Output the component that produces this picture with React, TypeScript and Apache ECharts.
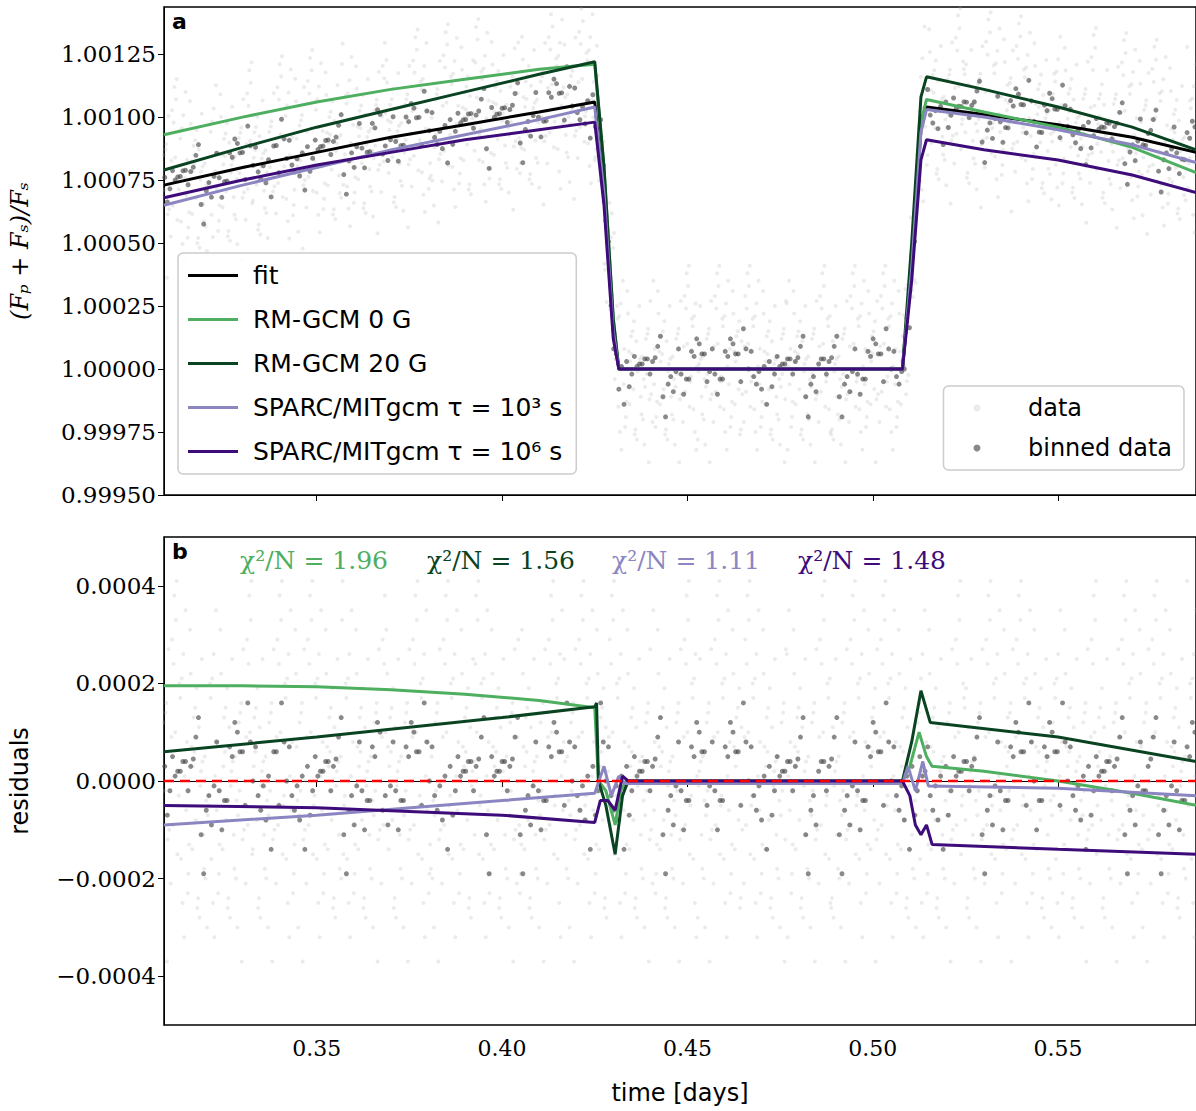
import * as echarts from 'echarts';
import React, { useEffect, useRef } from 'react';

// model curves, top panel: [time, flux]
const fitPts = [[0.3088, 1.00073], [0.33, 1.0008], [0.35, 1.00086], [0.37, 1.00092], [0.39, 1.00097], [0.41, 1.00102], [0.425, 1.00106], [0.4275, 1.0007], [0.43, 1.00015], [0.4315, 1.0], [0.508, 1.0], [0.5105, 1.0004], [0.513, 1.00095], [0.5145, 1.00104], [0.53, 1.00101], [0.55, 1.00097], [0.57, 1.00092], [0.5872, 1.00086]];
const gcm0Pts = [[0.3088, 1.00093], [0.33, 1.001], [0.35, 1.00106], [0.37, 1.00111], [0.39, 1.00115], [0.41, 1.00119], [0.425, 1.00121], [0.4275, 1.0008], [0.43, 1.0002], [0.4315, 1.0], [0.508, 1.0], [0.5105, 1.0004], [0.513, 1.00098], [0.5145, 1.00107], [0.53, 1.00102], [0.55, 1.00096], [0.57, 1.00088], [0.5872, 1.00078]];
const gcm20Pts = [[0.3088, 1.00079], [0.33, 1.00088], [0.35, 1.00096], [0.37, 1.00103], [0.39, 1.0011], [0.41, 1.00117], [0.425, 1.00122], [0.4275, 1.0008], [0.43, 1.0002], [0.4315, 1.0], [0.508, 1.0], [0.5105, 1.0005], [0.513, 1.00108], [0.5145, 1.00116], [0.53, 1.00111], [0.55, 1.00104], [0.57, 1.00096], [0.5872, 1.00087]];
const sp3Pts = [[0.3088, 1.00065], [0.33, 1.00073], [0.35, 1.0008], [0.37, 1.00087], [0.39, 1.00093], [0.41, 1.00099], [0.425, 1.00104], [0.4275, 1.0007], [0.43, 1.00015], [0.4315, 1.0], [0.508, 1.0], [0.5105, 1.0004], [0.513, 1.00094], [0.5145, 1.00103], [0.53, 1.001], [0.55, 1.00095], [0.57, 1.00089], [0.5872, 1.00082]];
const sp6Pts = [[0.3088, 1.00068], [0.33, 1.00075], [0.35, 1.00081], [0.37, 1.00086], [0.39, 1.00091], [0.41, 1.00095], [0.425, 1.00098], [0.4275, 1.00065], [0.43, 1.00012], [0.4315, 1.0], [0.508, 1.0], [0.5105, 1.00035], [0.513, 1.00083], [0.5145, 1.00091], [0.53, 1.00087], [0.55, 1.00083], [0.57, 1.00077], [0.5872, 1.0007]];

// residual curves, bottom panel: [time, residual in 1e-4]
const gcm0Res = [[0.3088, 1.95], [0.33, 1.95], [0.35, 1.93], [0.37, 1.87], [0.39, 1.78], [0.41, 1.65], [0.425, 1.5], [0.426, 0.0], [0.428, -0.2], [0.4305, -0.9], [0.432, -0.2], [0.4335, 0.0], [0.508, 0.0], [0.51, 0.3], [0.5125, 1.0], [0.5145, 0.5], [0.516, 0.3], [0.53, 0.2], [0.55, 0.0], [0.57, -0.25], [0.5872, -0.5]];
const gcm20Res = [[0.3088, 0.6], [0.35, 0.9], [0.4, 1.3], [0.425, 1.52], [0.4255, 1.6], [0.426, 0.0], [0.428, -0.5], [0.4305, -1.5], [0.4325, -0.3], [0.434, 0.0], [0.508, 0.0], [0.5105, 0.8], [0.513, 1.85], [0.5155, 1.2], [0.55, 0.9], [0.5872, 0.4]];
const sp3Res = [[0.3088, -0.9], [0.35, -0.7], [0.4, -0.4], [0.425, -0.25], [0.4275, 0.3], [0.4295, -0.3], [0.4315, 0.1], [0.433, -0.05], [0.508, -0.05], [0.5095, 0.3], [0.5115, -0.2], [0.5135, 0.4], [0.515, -0.1], [0.55, -0.15], [0.5872, -0.3]];
const sp6Res = [[0.3088, -0.5], [0.35, -0.55], [0.4, -0.7], [0.425, -0.85], [0.4265, -0.4], [0.4285, -0.4], [0.4305, -0.6], [0.4325, 0.1], [0.434, 0.0], [0.508, 0.0], [0.51, -0.3], [0.5115, -0.9], [0.513, -1.1], [0.5145, -0.9], [0.516, -1.3], [0.55, -1.4], [0.5872, -1.5]];

// scatter residuals (1e-4)
const rawRes = [1.2, -0.8, 2.6, -2.1, 0.4, 3.1, -1.5, -0.2, 1.9, -3.2, 0.9, -1.1, 2.2, -0.5, 1.4, -2.6, 0.1, 2.9, -1.8, 0.7, -0.3, 1.6, -2.4, 3.5, -0.9, 0.5, -1.4, 2.0, -3.7, 1.1, -0.6, 2.4, -2.0, 0.3, 1.7, -1.2, -2.8, 0.8, 3.8, -0.4, 1.3, -1.6, 2.7, -0.1, -2.3, 1.0, -3.0, 0.6, 2.1, -1.0, 0.2, -1.9, 3.3, -0.7, 1.5, -2.5, 0.0, 2.5, -1.3, 4.1];
const binnedRes = [0.3, -0.5, 0.8, -0.2, 0.1, 0.6, -0.9, 0.4, -0.1, 1.2, -0.6, 0.2, -0.3, 0.7, -1.1, 0.5, 0.0, -0.4, 0.9, -0.7, 1.6, -0.2, 0.3, -1.4, 0.6, -0.1, 0.4, -0.8, 1.0, -0.3, 0.2, -0.6, 0.5, -1.9, 0.1, 0.7, -0.4, 1.3, -0.2, 0.8, -1.0, 0.45];

const chiLabels = ['χ²/N = 1.96', 'χ²/N = 1.56', 'χ²/N = 1.11', 'χ²/N = 1.48'];
const xTicks = [0.35, 0.4, 0.45, 0.5, 0.55];
const topTicks = [0.9995, 0.99975, 1.0, 1.00025, 1.0005, 1.00075, 1.001, 1.00125];
const botTicks = [-0.0004, -0.0002, 0, 0.0002, 0.0004];

const C = { fit: '#000000', g0: '#4daf5f', g20: '#0a4322', s3: '#8b86c2', s6: '#3d0c7a' };
const names = ['fit', 'RM-GCM 0 G', 'RM-GCM 20 G', 'SPARC/MITgcm τ = 10³ s', 'SPARC/MITgcm τ = 10⁶ s'];
const serif = 'DejaVu Serif';
const sans = 'DejaVu Sans';

const interp = (pts: number[][], t: number) => {
  for (let i = 1; i < pts.length; i++) {
    if (t <= pts[i][0]) {
      const [x0, y0] = pts[i - 1];
      const [x1, y1] = pts[i];
      return y0 + ((y1 - y0) * (t - x0)) / (x1 - x0);
    }
  }
  return pts[pts.length - 1][1];
};

const App: React.FC = () => {
  const ref = useRef<HTMLDivElement>(null);

  useEffect(() => {
    if (!ref.current) return;
    const chart = echarts.init(ref.current, null, { renderer: 'svg' });

    const raw: number[][] = [];
    for (let i = 0, t = 0.3088; t < 0.5872; i++, t += 0.0002) {
      raw.push([t, rawRes[(i * 7 + Math.floor(i / 60) * 13) % rawRes.length] * 1e-4]);
    }
    const binned: number[][] = [];
    for (let i = 0, t = 0.309; t < 0.5872; i++, t += 0.0007) {
      binned.push([t, binnedRes[(i * 19 + Math.floor(i / 42) * 5) % binnedRes.length] * 1e-4]);
    }
    const rawTop = raw.map(([t, r]) => [t, interp(fitPts, t) + r]);
    const binTop = binned.map(([t, r]) => [t, interp(fitPts, t) + r]);
    const toRes = (pts: number[][]) => pts.map(([t, v]) => [t, v * 1e-4]);

    const xAxisBase = (gi: number, labels: boolean) => ({
      type: 'value' as const,
      gridIndex: gi,
      min: 0.3088,
      max: 0.5872,
      splitLine: { show: false },
      axisLine: { lineStyle: { color: '#000' } },
      axisTick: { customValues: xTicks, length: 6, lineStyle: { color: '#000' } },
      axisLabel: {
        show: labels,
        customValues: xTicks,
        formatter: (v: number) => v.toFixed(2),
        fontFamily: serif,
        fontSize: 22,
        color: '#000',
        margin: 12,
      },
      name: labels ? 'time [days]' : '',
      nameLocation: 'middle' as const,
      nameGap: 56,
      nameTextStyle: { fontFamily: sans, fontSize: 24, color: '#000' },
    });

    const line = (name: string, data: number[][], color: string, xi: number, width = 3) => ({
      type: 'line' as const,
      name,
      data,
      xAxisIndex: xi,
      yAxisIndex: xi,
      showSymbol: false,
      lineStyle: { color, width },
      itemStyle: { color },
      z: 5,
    });

    const option: any = {
      animation: false,
      grid: [
        { left: 163, top: 7, width: 1033, height: 488, show: true, borderColor: '#000', borderWidth: 1.5 },
        { left: 163, top: 537, width: 1033, height: 488, show: true, borderColor: '#000', borderWidth: 1.5 },
      ],
      xAxis: [xAxisBase(0, false), xAxisBase(1, true)],
      yAxis: [
        {
          type: 'value',
          gridIndex: 0,
          min: 0.9995,
          max: 1.001437,
          splitLine: { show: false },
          axisLine: { show: true, lineStyle: { color: '#000' } },
          axisTick: { customValues: topTicks, length: 6, lineStyle: { color: '#000' } },
          axisLabel: { customValues: topTicks, formatter: (v: number) => v.toFixed(5), fontFamily: serif, fontSize: 23, color: '#000' },
          name: '(Fₚ + Fₛ)/Fₛ',
          nameLocation: 'middle',
          nameGap: 132,
          nameTextStyle: { fontFamily: serif, fontStyle: 'italic', fontSize: 24, color: '#000' },
        },
        {
          type: 'value',
          gridIndex: 1,
          min: -0.0005,
          max: 0.0005,
          splitLine: { show: false },
          axisLine: { show: true, lineStyle: { color: '#000' } },
          axisTick: { customValues: botTicks, length: 6, lineStyle: { color: '#000' } },
          axisLabel: {
            customValues: botTicks,
            formatter: (v: number) => (Math.abs(v) < 1e-9 ? '0.0000' : v.toFixed(4).replace('-', '−')),
            fontFamily: serif,
            fontSize: 23,
            color: '#000',
          },
          name: 'residuals',
          nameLocation: 'middle',
          nameGap: 132,
          nameTextStyle: { fontFamily: sans, fontSize: 24, color: '#000' },
        },
      ],
      legend: [
        {
          data: names,
          orient: 'vertical',
          left: 178,
          top: 253,
          padding: [10, 14, 10, 10],
          itemGap: 19,
          itemWidth: 50,
          itemHeight: 3,
          icon: 'rect',
          backgroundColor: 'rgba(255,255,255,0.85)',
          borderColor: '#ccc',
          borderWidth: 1.5,
          borderRadius: 5,
          textStyle: { fontFamily: sans, fontSize: 25, color: '#000', padding: [0, 0, 0, 10] },
        },
        {
          data: ['data', 'binned data'],
          orient: 'vertical',
          right: 12,
          top: 386,
          padding: [10, 12, 10, 30],
          itemGap: 16,
          itemWidth: 16,
          itemHeight: 7,
          icon: 'circle',
          backgroundColor: 'rgba(255,255,255,0.85)',
          borderColor: '#ccc',
          borderWidth: 1.5,
          borderRadius: 5,
          textStyle: { fontFamily: sans, fontSize: 24, color: '#000', padding: [0, 0, 0, 38] },
        },
      ],
      graphic: [
        { type: 'text', left: 172, top: 10, style: { text: 'a', font: 'bold 22px DejaVu Sans', fill: '#000' } },
        { type: 'text', left: 172, top: 540, style: { text: 'b', font: 'bold 22px DejaVu Sans', fill: '#000' } },
        ...chiLabels.map((t, i) => ({
          type: 'text',
          left: [240, 427, 612, 798][i],
          top: 548,
          style: { text: t, font: '25px DejaVu Serif', fill: [C.g0, C.g20, C.s3, C.s6][i] },
        })),
      ],
      series: [
        {
          type: 'scatter', name: 'data', data: rawTop, xAxisIndex: 0, yAxisIndex: 0, symbolSize: 4,
          itemStyle: { color: 'rgba(170,170,170,0.3)' }, z: 1,
        },
        {
          type: 'scatter', name: 'binned data', data: binTop, xAxisIndex: 0, yAxisIndex: 0, symbolSize: 5,
          itemStyle: { color: 'rgba(70,70,70,0.8)' }, z: 2,
        },
        line(names[0], fitPts, C.fit, 0),
        line(names[1], gcm0Pts, C.g0, 0),
        line(names[2], gcm20Pts, C.g20, 0),
        line(names[3], sp3Pts, C.s3, 0),
        line(names[4], sp6Pts, C.s6, 0),
        {
          type: 'scatter', name: 'data', data: raw, xAxisIndex: 1, yAxisIndex: 1, symbolSize: 4,
          itemStyle: { color: 'rgba(170,170,170,0.3)' }, z: 1,
        },
        {
          type: 'scatter', name: 'binned data', data: binned, xAxisIndex: 1, yAxisIndex: 1, symbolSize: 5,
          itemStyle: { color: 'rgba(70,70,70,0.8)' }, z: 2,
        },
        {
          ...line('zero', [[0.3088, 0], [0.5872, 0]], '#ff0000', 1, 2.5),
          lineStyle: { color: '#ff0000', width: 2.5, type: [10, 6] },
          z: 6,
        },
        line(names[1], toRes(gcm0Res), C.g0, 1),
        line(names[2], toRes(gcm20Res), C.g20, 1),
        line(names[3], toRes(sp3Res), C.s3, 1),
        line(names[4], toRes(sp6Res), C.s6, 1),
      ],
    };

    chart.setOption(option);
    return () => {
      chart.dispose();
    };
  }, []);

  return <div ref={ref} style={{ position: 'absolute', left: 0, top: 0, width: 1196, height: 1111 }} />;
};

export default App;
